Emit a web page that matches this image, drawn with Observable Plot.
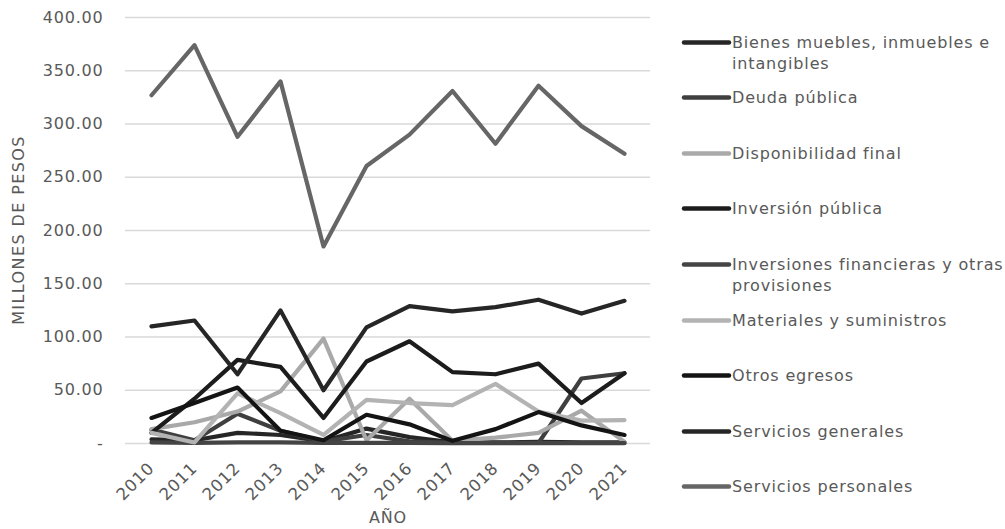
<!DOCTYPE html>
<html>
<head>
<meta charset="utf-8">
<script src="https://cdn.jsdelivr.net/npm/d3@7"></script>
<script src="https://cdn.jsdelivr.net/npm/@observablehq/plot@0.6"></script>
<style>
  body { margin: 0; background: #fff; font-family: "DejaVu Sans", sans-serif; }
  #wrap { position: relative; width: 1005px; height: 529px; overflow: hidden; }
  #chart { position: absolute; left: 0; top: 0; }
  .ytitle { position: absolute; left: 18px; top: 230px; transform: translate(-50%, -50%) rotate(-90deg);
            font-size: 16px; color: #595959; white-space: nowrap; letter-spacing: 1.4px; }
  .xtitle { position: absolute; left: 388px; top: 517px; transform: translate(-50%, -50%);
            font-size: 16px; color: #595959; letter-spacing: 0.8px; }
  .item { position: absolute; left: 680px; width: 325px; height: 44px; }
  .item svg { position: absolute; left: 0; top: 0; }
  .item span { position: absolute; left: 52px; top: 0; width: 273px; font-size: 16px; line-height: 21px;
               color: #595959; letter-spacing: 0.85px; }
</style>
</head>
<body>
<div id="wrap">
  <div id="chart"></div>
  <div class="ytitle">MILLONES DE PESOS</div>
  <div class="xtitle">AÑO</div>
  <div id="legend"></div>
</div>
<script>
const years = ["2010","2011","2012","2013","2014","2015","2016","2017","2018","2019","2020","2021"];
const seriesNames = [
  "Bienes muebles, inmuebles e intangibles",
  "Deuda pública",
  "Disponibilidad final",
  "Inversión pública",
  "Inversiones financieras y otras provisiones",
  "Materiales y suministros",
  "Otros egresos",
  "Servicios generales",
  "Servicios personales"
];
const seriesColors = ["#262626","#3f3f3f","#a9a9a9","#1c1c1c","#444444","#b3b3b3","#141414","#262626","#666666"];
const yTicks = [0, 50, 100, 150, 200, 250, 300, 350, 400];

const bienesMuebles     = [4, 3, 10, 8, 2, 14, 6, 1, 1, 1.5, 1, 1];
const deudaPublica      = [13, 3, 28, 12, 2, 8, 2, 0.5, 0.5, 0.5, 61, 66];
const disponibilidad    = [13.5, 20, 30, 49, 98.5, 3, 42, 2.5, 5.5, 10, 30.8, 1.5];
const inversionPublica  = [10, 42, 78.5, 72, 24, 77, 96, 67, 65, 75, 38, 66];
const inversionesFin    = [1, 0.5, 1, 1, 0.5, 0.5, 0.5, 0.3, 0.3, 0.3, 0.3, 0.3];
const materiales        = [10, 1, 47, 28.5, 8, 41, 38, 36, 56, 30, 21.5, 22];
const otrosEgresos      = [24, 38, 52.5, 12, 3, 27, 18, 2.5, 13.5, 29.5, 17, 8];
const serviciosGenerales= [110, 115.5, 65, 125, 50, 109, 129, 124, 128, 135, 122, 134];
const serviciosPersonales=[327, 374, 288, 340, 185, 260.5, 290, 331, 281.5, 336, 298, 272];

const seriesValues = [bienesMuebles, deudaPublica, disponibilidad, inversionPublica, inversionesFin,
                      materiales, otrosEgresos, serviciosGenerales, serviciosPersonales];

const data = seriesNames.flatMap((name, i) =>
  years.map((year, j) => ({serie: name, year, value: seriesValues[i][j]})));

const chart = Plot.plot({
  width: 670,
  height: 529,
  marginTop: 17,
  marginBottom: 86,
  marginLeft: 125,
  marginRight: 20,
  style: {fontFamily: "DejaVu Sans", fontSize: "16px", color: "#595959", letterSpacing: "0.8px", background: "#fff"},
  x: {type: "point", domain: years, padding: 0.5, label: null},
  y: {domain: [0, 400], label: null},
  color: {domain: seriesNames, range: seriesColors},
  marks: [
    Plot.gridY(yTicks, {stroke: "#d9d9d9", strokeOpacity: 1, strokeWidth: 1.3}),
    Plot.axisY(yTicks, {tickSize: 0, tickPadding: 22, label: null,
      tickFormat: d => d === 0 ? "-" : d.toFixed(2), fill: "#595959"}),
    Plot.axisX({tickSize: 0, tickRotate: -45, tickPadding: 22, dx: 0, label: null, fill: "#595959",
      fontSize: 16.5, letterSpacing: "1.3px"}),
    Plot.line(data, {x: "year", y: "value", z: "serie", stroke: "serie", strokeWidth: 4.2,
      strokeLinejoin: "round", strokeLinecap: "round"})
  ]
});
document.getElementById("chart").appendChild(chart);

const legend = document.getElementById("legend");
seriesNames.forEach((name, i) => {
  const yc = 42 + i * 55.6;
  const item = document.createElement("div");
  item.className = "item";
  item.style.top = (yc - 10.5) + "px";
  item.innerHTML = `<svg width="52" height="21"><line x1="4" x2="49" y1="10.5" y2="10.5" stroke="${seriesColors[i]}" stroke-width="4.5" stroke-linecap="round"/></svg><span></span>`;
  item.querySelector("span").textContent = name;
  legend.appendChild(item);
});
</script>
</body>
</html>
